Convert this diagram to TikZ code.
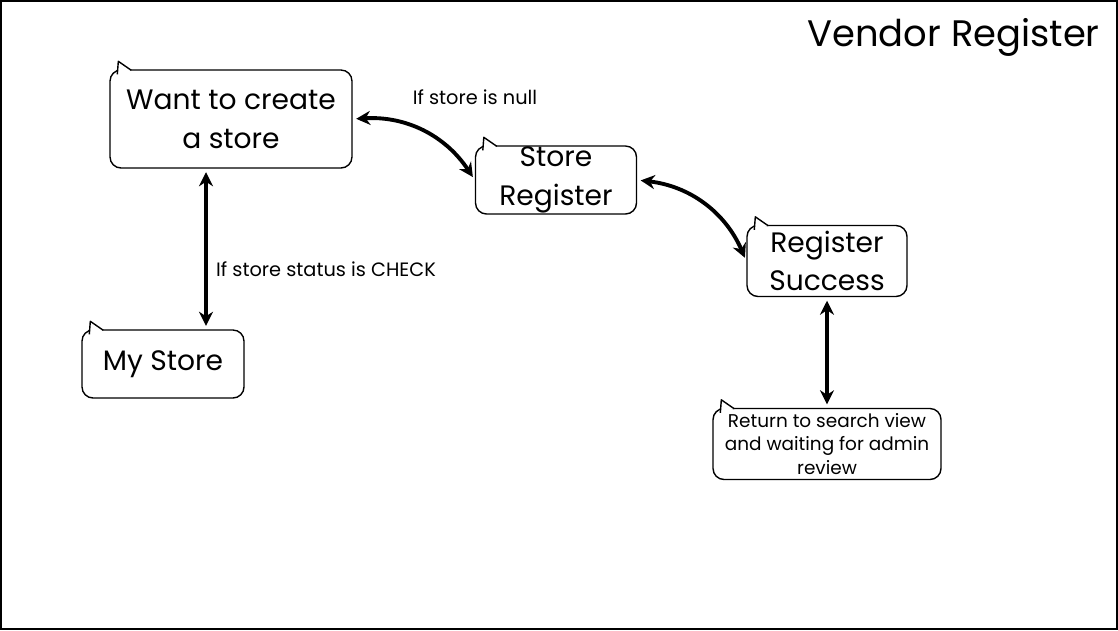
\documentclass[tikz,border=0pt]{standalone}
\usepackage{fontspec}
\setmainfont{Poppins}
\usetikzlibrary{arrows.meta}

\begin{document}
\begin{tikzpicture}[x=0.02cm,y=-0.02cm,
    bubble/.style={draw,thick,rounded corners=0.22cm,fill=white,align=center,inner sep=0pt},
    big/.style={font=\fontsize{16}{22}\selectfont},
    small/.style={font=\fontsize{11}{13.5}\selectfont},
    link/.style={{Stealth[length=8pt,width=8pt]}-{Stealth[length=8pt,width=8pt]},line width=2.2pt,shorten <=2pt,shorten >=2pt},
    tail/.style={thick,fill=white,line join=round}]
    % Frame
    \useasboundingbox (0,0) rectangle (1118,630);
    \draw[line width=1.2pt] (1,1) rectangle (1117,629);
    \node[anchor=east,inner sep=0pt,font=\fontsize{21}{25}\selectfont] (title) at (1100,37) {Vendor Register};
    % Bubbles
    \node[bubble,big,minimum width=4.84cm,minimum height=1.96cm] (want) at (231,119) {Want to create\\a store};
    \node[bubble,big,minimum width=3.22cm,minimum height=1.36cm] (reg) at (556,180) {Store\\Register};
    \node[bubble,big,minimum width=3.2cm,minimum height=1.42cm] (succ) at (827,261) {Register\\Success};
    \node[bubble,big,minimum width=3.24cm,minimum height=1.36cm] (mystore) at (163,364) {My Store};
    \node[bubble,minimum width=4.56cm,minimum height=1.42cm,font=\fontsize{10.5}{13.5}\selectfont] (ret) at (827,444) {Return to search view\\and waiting for admin\\review};
    % Tails
    \foreach \n in {want,reg,succ,mystore,ret}
        \draw[tail] ([shift={(22,1)}]\n.north west) -- ([shift={(9,-8)}]\n.north west) -- ([shift={(8,5)}]\n.north west);
    % Links
    \draw[link] (want.east) to[bend left=30] (reg.west);
    \draw[link] (reg.east) to[bend left=30] (succ.west);
    \draw[link] ([xshift=-0.5cm]want.south) -- ([xshift=-0.5cm]want.south |- mystore.north);
    \draw[link] (succ.south) -- (ret.north);
    % Labels
    \node[small] (lblnull) at (475,97) {If store is null};
    \node[small,anchor=west] (lblcheck) at (210,269) {If store status is CHECK};
\end{tikzpicture}
\end{document}
